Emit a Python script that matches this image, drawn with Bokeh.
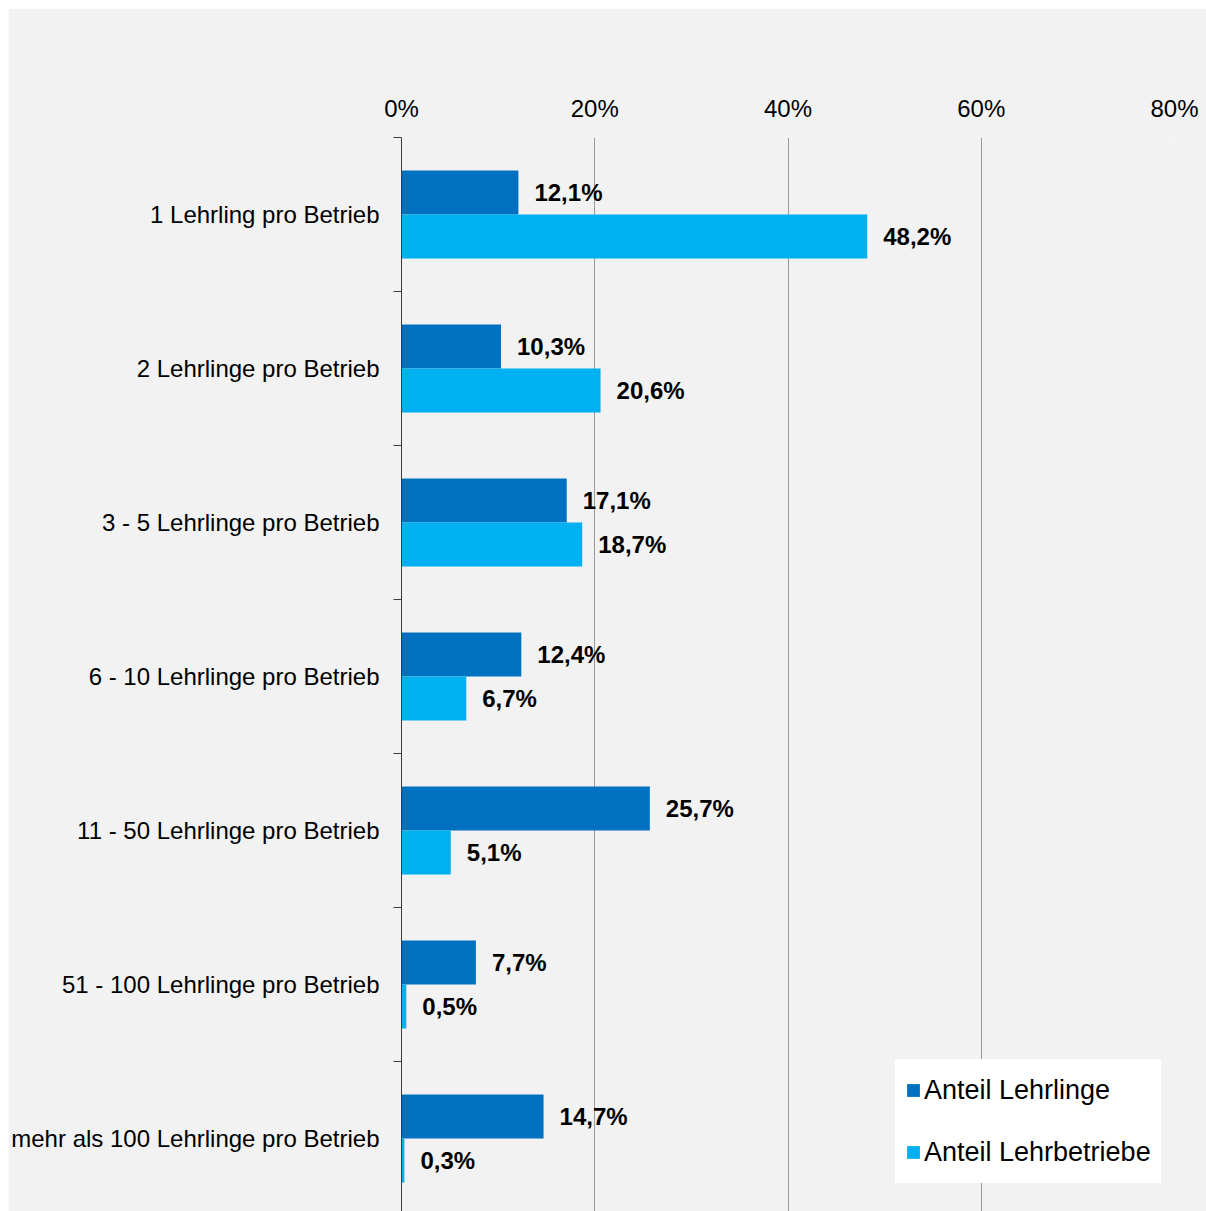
from bokeh.plotting import figure
from bokeh.models import (Range1d, FixedTicker, ColumnDataSource, Legend, LegendItem)
from bokeh.core.properties import value
from bokeh.embed import file_html
from bokeh.resources import INLINE

categories = ["1 Lehrling pro Betrieb", "2 Lehrlinge pro Betrieb", "3 - 5 Lehrlinge pro Betrieb",
              "6 - 10 Lehrlinge pro Betrieb", "11 - 50 Lehrlinge pro Betrieb",
              "51 - 100 Lehrlinge pro Betrieb", "mehr als 100 Lehrlinge pro Betrieb"]
anteil_lehrlinge = [12.1, 10.3, 17.1, 12.4, 25.7, 7.7, 14.7]
anteil_lehrbetriebe = [48.2, 20.6, 18.7, 6.7, 5.1, 0.5, 0.3]
series_names = ["Anteil Lehrlinge", "Anteil Lehrbetriebe"]
x_ticks = [0, 20, 40, 60, 80]

FONT = "Liberation Sans"
BG = "#f2f2f2"
C1 = "#0070c0"
C2 = "#00b0f0"

n = len(categories)
idx = list(range(n))
bar_h = 0.2857
off = bar_h / 2

def fmt(v):
    return f"{v:.1f}".replace(".", ",") + "%"

src1 = ColumnDataSource(dict(y=[i - off for i in idx], v=anteil_lehrlinge,
                             lab=[fmt(v) for v in anteil_lehrlinge]))
src2 = ColumnDataSource(dict(y=[i + off for i in idx], v=anteil_lehrbetriebe,
                             lab=[fmt(v) for v in anteil_lehrbetriebe]))

p = figure(width=1198, height=1203, output_backend="svg", toolbar_location=None,
           x_range=Range1d(0, 80), y_range=Range1d(6.474, -0.5),
           x_axis_location="above",
           min_border_left=393, min_border_right=32, min_border_top=129, min_border_bottom=0)
p.margin = (8, 0, 0, 8)
p.background_fill_color = BG
p.border_fill_color = BG
p.outline_line_color = None

r1 = p.hbar(y="y", right="v", left=0, height=bar_h, source=src1, fill_color=C1, line_color=None)
r2 = p.hbar(y="y", right="v", left=0, height=bar_h, source=src2, fill_color=C2, line_color=None)

for s in (src1, src2):
    p.text(x="v", y="y", text="lab", source=s, x_offset=16, text_baseline="middle",
           text_align="left", text_font=value(FONT), text_font_size="24px",
           text_font_style="bold", text_color="#000000")

# top axis
xa = p.xaxis[0]
xa.ticker = FixedTicker(ticks=x_ticks)
xa.major_label_overrides = {t: f"{t}%" for t in x_ticks}
xa.axis_line_color = None
xa.major_tick_line_color = None
xa.minor_tick_line_color = None
xa.major_tick_out = 0
xa.major_label_standoff = 16
xa.major_label_text_font = FONT
xa.major_label_text_font_size = "24px"
xa.major_label_text_color = "#000000"

# left axis
ya = p.yaxis[0]
ya.ticker = FixedTicker(ticks=idx, minor_ticks=[i - 0.5 for i in range(n + 1)])
ya.major_label_overrides = {i: c for i, c in zip(idx, categories)}
ya.major_tick_line_color = None
ya.minor_tick_out = 8
ya.minor_tick_in = 0
ya.minor_tick_line_color = "#3c3c3c"
ya.axis_line_color = "#3c3c3c"
ya.major_label_standoff = 14
ya.major_label_text_font = FONT
ya.major_label_text_font_size = "24px"
ya.major_label_text_color = "#000000"

p.xgrid.ticker = FixedTicker(ticks=[t for t in x_ticks if t > 0])
p.xgrid.grid_line_color = "#9a9a9a"
p.ygrid.grid_line_color = None

legend = Legend(items=[LegendItem(label=series_names[0], renderers=[r1]),
                       LegendItem(label=series_names[1], renderers=[r2])],
                location=(494, 28), orientation="vertical",
                background_fill_color="#ffffff", background_fill_alpha=1.0,
                border_line_color="#ffffff", border_line_width=10,
                glyph_width=16, glyph_height=16,
                label_height=42, spacing=20, padding=0, margin=0, label_standoff=3,
                label_text_font=FONT, label_text_font_size="27px", label_text_color="#000000")
p.add_layout(legend, "center")

open("out.html", "w").write(file_html(p, INLINE))
